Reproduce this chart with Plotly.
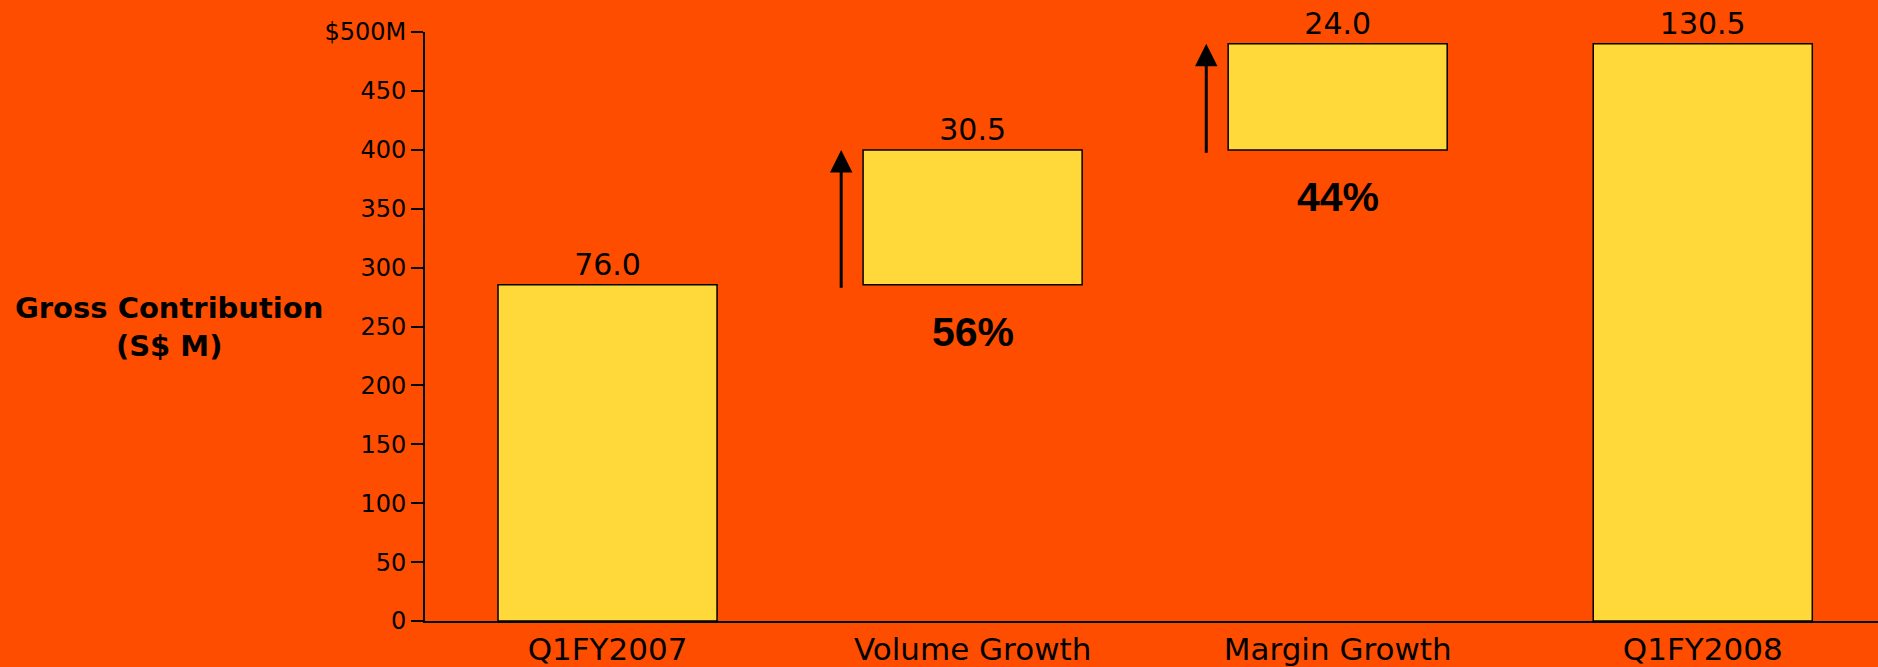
import plotly.graph_objects as go

# Gross contribution bridge, S$ M
categories = ["Q1FY2007", "Volume Growth", "Margin Growth", "Q1FY2008"]
values = [76.0, 30.5, 24.0, 130.5]
is_total = [True, False, False, True]
growth_share = ["", "56%", "44%", ""]

# Axis tick scale as printed on the left
tick_values = [0, 50, 100, 150, 200, 250, 300, 350, 400, 450, 500]
tick_labels = ["0", "50", "100", "150", "200", "250", "300", "350", "400", "450", "$500M"]

# floating bases for the step bars
bases = []
running = 0.0
for v, tot in zip(values, is_total):
    if tot:
        bases.append(0.0)
        running = v
    else:
        bases.append(running)
        running += v
tops = [b + v for b, v in zip(bases, values)]

BG = "#FF4D00"
BAR = "#FFD83A"
AXIS_MAX = 500
# bar scale: final total reaches just under the top tick
bar_max = values[-1] * AXIS_MAX / 490.0
scale = bar_max / AXIS_MAX

fig = go.Figure()
fig.add_trace(go.Bar(
    x=list(range(len(categories))),
    y=values,
    base=bases,
    width=0.6,
    marker=dict(color=BAR, line=dict(color="black", width=1.5)),
    text=[f"{v:.1f}" for v in values],
    textposition="outside",
    textfont=dict(family="DejaVu Sans", size=30, color="black"),
    cliponaxis=False,
    showlegend=False,
    hoverinfo="skip",
))

annotations = []
# growth arrows and percentage shares beside the step bars
for i, (lab, b, t) in enumerate(zip(growth_share, bases, tops)):
    if not lab:
        continue
    ax_x = i - 0.36
    annotations.append(dict(
        x=ax_x, y=t, xref="x", yref="y",
        ax=ax_x, ay=b - 1, axref="x", ayref="y",
        showarrow=True, arrowhead=2, arrowsize=1.5, arrowwidth=3,
        arrowcolor="black", text="",
    ))
    annotations.append(dict(
        x=i, y=b, xref="x", yref="y",
        text=f"<b>{lab}</b>", showarrow=False,
        yanchor="top", yshift=-22,
        font=dict(family="Liberation Sans", size=41, color="black"),
    ))

annotations.append(dict(
    x=-0.176, y=0.5, xref="paper", yref="paper",
    text="<b>Gross Contribution</b><br><b>(S$ M)</b>",
    showarrow=False, xanchor="center", yanchor="middle", align="center",
    font=dict(family="DejaVu Sans", size=29, color="black"),
))

fig.update_layout(
    width=1878, height=667,
    margin=dict(l=425, r=0, t=32, b=43),
    paper_bgcolor=BG, plot_bgcolor=BG,
    bargap=0.4,
    xaxis=dict(
        range=[-0.5, 3.48],
        tickmode="array",
        tickvals=list(range(len(categories))),
        ticktext=categories,
        tickfont=dict(family="DejaVu Sans", size=31, color="black"),
        showline=True, linecolor="black", linewidth=2,
        showgrid=False, zeroline=False, ticks="",
    ),
    yaxis=dict(
        range=[0, bar_max],
        tickmode="array",
        tickvals=[t * scale for t in tick_values],
        ticktext=tick_labels,
        tickfont=dict(family="DejaVu Sans", size=24, color="black"),
        ticks="outside", ticklen=12, tickwidth=2, tickcolor="black",
        showline=True, linecolor="black", linewidth=2,
        showgrid=False, zeroline=False,
    ),
    annotations=annotations,
)

fig.write_html("out.html")
